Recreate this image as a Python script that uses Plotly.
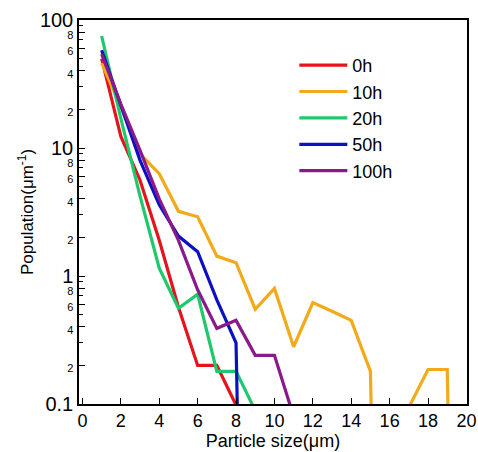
import plotly.graph_objects as go

# ---- data ----
series_names = ["0h", "10h", "20h", "50h", "100h"]
series_colors = ["#e5141c", "#f2aa1a", "#1fc86c", "#0c10c4", "#8a1a8c"]

x_0h = [1, 2, 3, 4, 5, 6, 7, 8, 9]
y_0h = [50, 12.3, 5.6, 1.9, 0.57, 0.2, 0.2, 0.098, 1e-8]

x_10h = [1, 2, 3, 4, 5, 6, 7, 8, 9, 10, 11, 12, 13, 14, 15, 16, 17, 18, 19, 20]
y_10h = [46, 21, 9.0, 6.3, 3.2, 2.9, 1.43, 1.27, 0.55, 0.80, 0.28, 0.62, 0.53,
         0.45, 0.18, 1e-8, 0.094, 0.186, 0.186, 1e-8]

x_20h = [1, 2, 3, 4, 5, 6, 7, 8, 9]
y_20h = [75, 17, 4.2, 1.15, 0.56, 0.72, 0.18, 0.18, 0.089]

x_50h = [1, 2, 3, 4, 5, 6, 7, 8, 9]
y_50h = [58, 22, 8.0, 3.6, 2.05, 1.55, 0.65, 0.30, 1e-8]

x_100h = [1, 2, 3, 4, 5, 6, 7, 8, 9, 10, 11]
y_100h = [54, 22, 9.6, 4.0, 1.9, 0.78, 0.39, 0.45, 0.24, 0.24, 0.08]

x_ticks = [0, 2, 4, 6, 8, 10, 12, 14, 16, 18, 20]
y_major = [0.1, 1, 10, 100]
y_major_text = ["0.1", "1", "10", "100"]
y_small_digits = [2, 4, 6, 8]
y_minor_digits = [2, 3, 4, 5, 6, 7, 8, 9]

xs = [x_0h, x_10h, x_20h, x_50h, x_100h]
ys = [y_0h, y_10h, y_20h, y_50h, y_100h]

FONT = "Liberation Sans, Arial, sans-serif"

fig = go.Figure()
for name, color, xv, yv in zip(series_names, series_colors, xs, ys):
    fig.add_trace(go.Scatter(x=xv, y=yv, mode="lines", name=name,
                             line=dict(color=color, width=3.2)))

# y tick values / texts
tickvals, ticktext = [], []
for d, t in zip(y_major, y_major_text):
    tickvals.append(d)
    ticktext.append(t)
    if d < 100:
        for k in y_small_digits:
            tickvals.append(d * k)
            ticktext.append("<span style='font-size:11px'>%d</span>" % k)
minor_vals = [d * k for d in y_major[:-1] for k in y_minor_digits]

fig.update_layout(
    width=478, height=452,
    margin=dict(l=79, r=11, t=20, b=48),
    paper_bgcolor="white", plot_bgcolor="white",
    font=dict(family=FONT, color="black"),
    showlegend=True,
    legend=dict(x=0.555, y=0.93, xanchor="left", yanchor="top",
                bgcolor="rgba(0,0,0,0)", font=dict(size=18, family=FONT),
                itemwidth=48, tracegroupgap=0),
    xaxis=dict(range=[-0.18, 20.03], tickvals=x_ticks, ticks="inside",
               ticklen=6, tickcolor="black", showgrid=False, zeroline=False,
               showline=True, linecolor="black", linewidth=1.5, mirror=True,
               tickfont=dict(size=18), automargin=False,
               title=dict(text="Particle size(μm)", font=dict(size=18), standoff=4)),
    yaxis=dict(type="log", range=[-1, 2], tickmode="array", tickvals=tickvals,
               ticktext=ticktext, ticks="inside", ticklen=6, tickcolor="black",
               showgrid=False, zeroline=False, showline=True, linecolor="black",
               linewidth=1.5, mirror=True, tickfont=dict(size=20), automargin=False,
               minor=dict(tickmode="array", tickvals=minor_vals, ticks="inside",
                          ticklen=4, tickcolor="black", showgrid=False),
               title=dict(text="Population(μm<sup>-1</sup>)", font=dict(size=17), standoff=2)),
)

fig.write_html("out.html", config={"displayModeBar": False},
               post_script="document.body.style.margin='0px';document.body.style.padding='0px';")
